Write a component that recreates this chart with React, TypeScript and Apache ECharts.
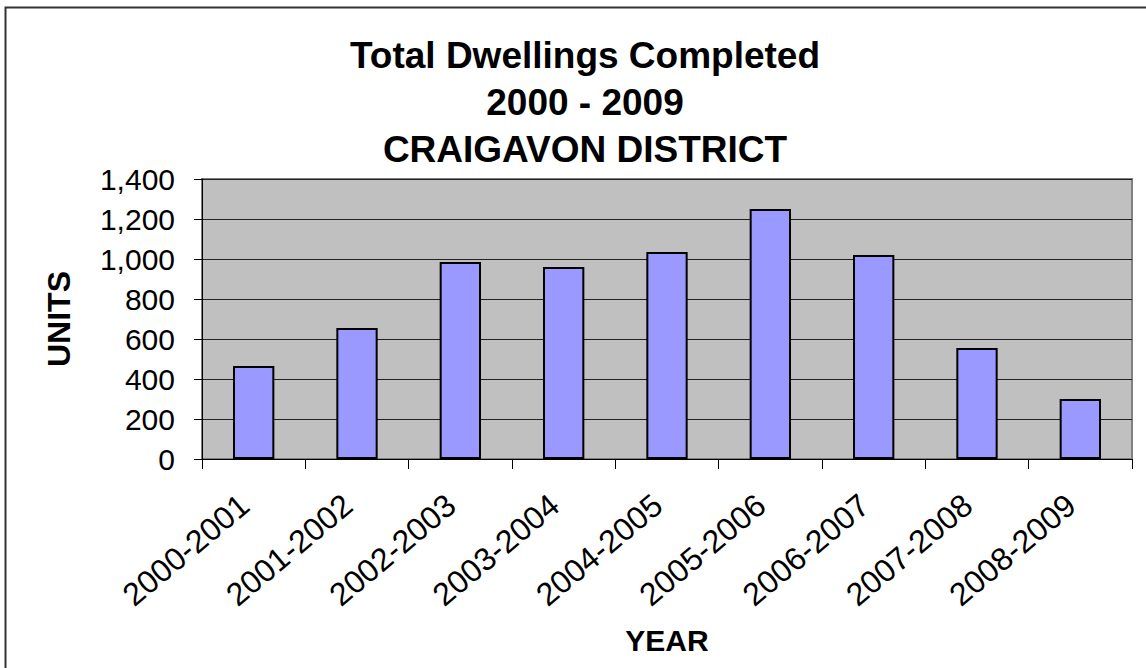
import React, { useEffect, useRef } from "react";
import * as echarts from "echarts";

const categories = [
  "2000-2001",
  "2001-2002",
  "2002-2003",
  "2003-2004",
  "2004-2005",
  "2005-2006",
  "2006-2007",
  "2007-2008",
  "2008-2009",
];
const unitsCompleted = [465, 655, 985, 960, 1035, 1250, 1020, 555, 300];
const titleLines = ["Total Dwellings Completed", "2000 - 2009", "CRAIGAVON DISTRICT"];
const yAxisName = "UNITS";
const xAxisName = "YEAR";

const FONT = "'Liberation Sans', Arial, sans-serif";

export default function App() {
  const ref = useRef<HTMLDivElement>(null);

  useEffect(() => {
    document.body.style.margin = "0";
    const chart = echarts.init(ref.current!, null, { renderer: "svg" });
    chart.setOption({
      animation: false,
      backgroundColor: "#ffffff",
      textStyle: { fontFamily: FONT },
      title: {
        text: titleLines.join("\n"),
        left: 580,
        top: 27,
        textAlign: "center",
        textStyle: {
          fontFamily: FONT,
          fontSize: 37,
          fontWeight: "bold",
          color: "#000",
          lineHeight: 47,
        },
      },
      graphic: [
        {
          type: "rect",
          shape: { x: 5.5, y: 7.5, width: 2000, height: 2000 },
          style: { fill: "none", stroke: "#333", lineWidth: 2 },
          silent: true,
        },
      ],
      grid: {
        left: 202,
        top: 179,
        width: 930,
        height: 280,
        show: true,
        backgroundColor: "#C0C0C0",
        borderColor: "#808080",
        borderWidth: 2,
      },
      xAxis: {
        type: "category",
        data: categories,
        name: xAxisName,
        nameLocation: "middle",
        nameGap: 166,
        nameTextStyle: { fontFamily: FONT, fontSize: 30, fontWeight: "bold", color: "#000" },
        axisLine: { show: true, lineStyle: { color: "#000", width: 1 } },
        axisTick: { show: true, length: 10, lineStyle: { color: "#000" } },
        axisLabel: {
          interval: 0,
          rotate: 40,
          margin: 34,
          padding: [0, 12, 0, 0],
          fontFamily: FONT,
          fontSize: 32,
          color: "#000",
        },
      },
      yAxis: {
        type: "value",
        min: 0,
        max: 1400,
        interval: 200,
        name: yAxisName,
        nameLocation: "middle",
        nameRotate: 90,
        nameGap: 127,
        nameTextStyle: { fontFamily: FONT, fontSize: 32, fontWeight: "bold", color: "#000" },
        axisLine: { show: true, lineStyle: { color: "#000", width: 1 } },
        axisTick: { show: true, length: 8, lineStyle: { color: "#000" } },
        axisLabel: {
          margin: 27,
          fontFamily: FONT,
          fontSize: 30,
          color: "#000",
          formatter: (v: number) => v.toLocaleString("en-US"),
        },
        splitLine: { show: true, lineStyle: { color: "#222", width: 1 } },
      },
      series: [
        {
          type: "bar",
          data: unitsCompleted,
          barWidth: "40%",
          itemStyle: { color: "#9999FF", borderColor: "#000", borderWidth: 2 },
        },
      ],
    });
    return () => chart.dispose();
  }, []);

  return <div ref={ref} style={{ width: 1146, height: 668 }} />;
}
